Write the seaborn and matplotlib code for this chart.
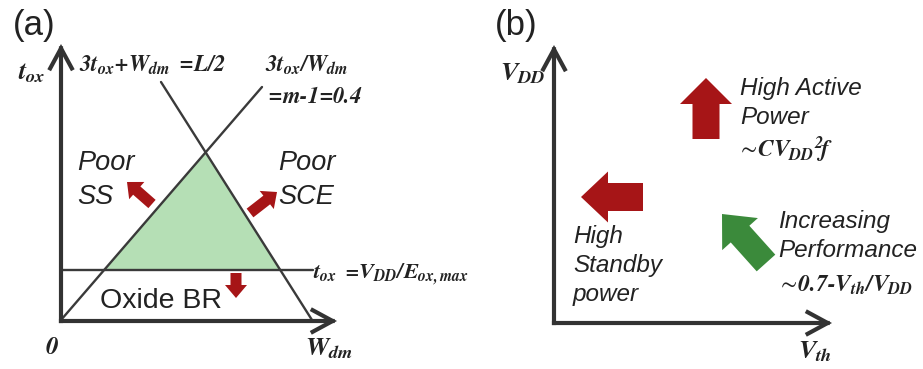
import numpy as np
import matplotlib
matplotlib.use("Agg")
import matplotlib.pyplot as plt
import seaborn as sns

# ---------------- data (schematic geometry, pixel units, y downward) ----------------
# panel (a): design-space lines
line_L2 = [(161, 82), (312, 320)]        # 3tox + Wdm = L/2
line_m = [(61, 320), (262, 87)]          # 3tox / Wdm = m-1 = 0.4
hline_y = 270                             # tox = VDD / Eox,max
hline_x = [61, 313]
axes_a = {"origin": (61, 321), "ytip": (61, 44), "xtip": (337, 321)}
axes_b = {"origin": (554, 323), "ytip": (554, 45), "xtip": (832, 323)}

# block arrows: (tail_x, tail_y, tip_x, tip_y, width, head_width, head_length, colour)
block_arrows = [
    (152, 204, 127, 182, 11, 23, 13, "red"),     # Poor SS
    (250, 213, 277, 192, 11, 23, 13, "red"),     # Poor SCE
    (236, 273, 236, 298, 11, 22, 13, "red"),     # Oxide BR
    (706, 139, 706, 78, 27, 52, 26, "red"),      # High active power
    (643, 197, 581, 197, 28, 51, 27, "red"),     # High standby power
    (766, 263, 722, 214, 25, 48, 27, "green"),   # Increasing performance
]

labels_sans = [
    ("(a)", 13, 35, 25, "normal"),
    ("(b)", 495, 35, 25, "normal"),
    ("Poor", 77, 170, 19.5, "italic"),
    ("SS", 77, 204, 19.5, "italic"),
    ("Poor", 278, 170, 19.5, "italic"),
    ("SCE", 278, 204, 19.5, "italic"),
    ("Oxide BR", 100, 308, 20.5, "normal"),
    ("High Active", 740, 95, 17.5, "italic"),
    ("Power", 740, 124, 17.5, "italic"),
    ("High", 573, 243, 17.5, "italic"),
    ("Standby", 573, 272, 17.5, "italic"),
    ("power", 573, 301, 17.5, "italic"),
    ("Increasing", 778, 228, 17.5, "italic"),
    ("Performance", 778, 257, 17.5, "italic"),
]

labels_math = [
    (r"$t_{ox}$", 18, 79, 19),
    (r"$0$", 45, 354, 18),
    (r"$W_{dm}$", 305, 355, 19),
    (r"$3t_{ox}\!+\!W_{dm}\ =\!L/2$", 79, 72, 16.5),
    (r"$3t_{ox}/W_{dm}$", 265, 72, 16.5),
    (r"$=\!m\text{-}1\!=\!0.4$", 265, 103, 16.3),
    (r"$t_{ox}\ =\!V_{DD}/E_{ox,max}$", 313, 280, 16),
    (r"$V_{DD}$", 500, 80, 19),
    (r"$V_{th}$", 798, 358, 19),
    (r"$\sim\!CV_{DD}{}^{2}\!f$", 737, 157, 17),
    (r"$\sim\!0.7\text{-}V_{th}/V_{DD}$", 777, 292, 17),
]

# ---------------- style ----------------
sns.set_theme(style="white")
plt.rcParams["font.family"] = ["Liberation Sans", "DejaVu Sans"]
plt.rcParams["mathtext.fontset"] = "custom"
SERIF_BI = "STIXGeneral:style=italic:weight=bold"
plt.rcParams["mathtext.rm"] = SERIF_BI
plt.rcParams["mathtext.it"] = SERIF_BI
plt.rcParams["mathtext.bf"] = SERIF_BI
plt.rcParams["mathtext.sf"] = SERIF_BI
plt.rcParams["mathtext.fallback"] = "stix"

RED = "#a61517"
GREEN = "#3b8a3b"
FILL = "#b5dfb5"
LINE = "#3a3a3a"
AXC = "#333333"
TXT = "#222222"

W, H = 923, 369
fig = plt.figure(figsize=(W / 100, H / 100), dpi=100)
ax = fig.add_axes([0, 0, 1, 1])
ax.set_xlim(0, W)
ax.set_ylim(H, 0)
ax.axis("off")


def intersect(p1, p2, q1, q2):
    p1, p2, q1, q2 = map(np.asarray, (p1, p2, q1, q2))
    d1 = p2 - p1
    d2 = q2 - q1
    A = np.array([d1, -d2]).T
    t = np.linalg.solve(A, q1 - p1)
    return p1 + t[0] * d1


h1 = (hline_x[0], hline_y)
h2 = (hline_x[1], hline_y)
apex = intersect(*line_L2, *line_m)
left = intersect(*line_m, h1, h2)
right = intersect(*line_L2, h1, h2)
tri = np.array([apex, left, right])
ax.fill(tri[:, 0], tri[:, 1], color=FILL, lw=0, zorder=1)

for seg in (line_L2, line_m):
    xs, ys = zip(*seg)
    sns.lineplot(x=list(xs), y=list(ys), ax=ax, color=LINE, lw=1.7, sort=False, zorder=2)
sns.lineplot(x=hline_x, y=[hline_y, hline_y], ax=ax, color=LINE, lw=1.7, zorder=2)

for axd in (axes_a, axes_b):
    for tip in (axd["ytip"], axd["xtip"]):
        ax.annotate("", xy=tip, xytext=axd["origin"],
                    arrowprops=dict(arrowstyle="->,head_length=1.2,head_width=0.65",
                                    lw=3.0, color=AXC, shrinkA=0, shrinkB=0,
                                    capstyle="projecting", joinstyle="miter"),
                    zorder=3)

for tx, ty, hx, hy, w, hw, hl, c in block_arrows:
    ax.arrow(tx, ty, hx - tx, hy - ty, width=w, head_width=hw, head_length=hl,
             length_includes_head=True, color=RED if c == "red" else GREEN,
             lw=0, zorder=4)

for s, x, y, fs, st in labels_sans:
    ax.text(x, y, s, fontsize=fs, style=st, color=TXT, ha="left", va="baseline",
            family=["Liberation Sans", "DejaVu Sans"])

for s, x, y, fs in labels_math:
    ax.text(x, y, s, fontsize=fs, color=TXT, ha="left", va="baseline")

fig.savefig("out.png", dpi=100)
